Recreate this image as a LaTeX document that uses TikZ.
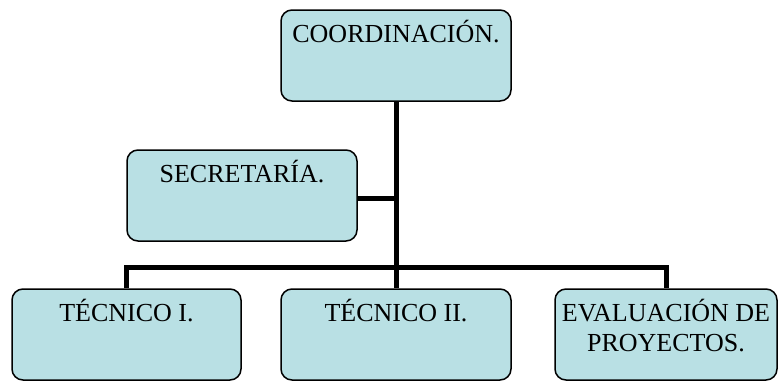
\documentclass[tikz,border=0pt]{standalone}
\usepackage{fontspec}
\setmainfont{Liberation Serif}
\definecolor{boxfill}{RGB}{185,224,228}
\newcommand{\boxtext}[2]{\parbox[c][91pt][t]{#1}{\centering\fontsize{26}{30}\selectfont\vspace*{10pt}\strut #2}}
\begin{document}
\begin{tikzpicture}[x=1pt,y=1pt,
  orgbox/.style={draw=black, line width=1.5pt, fill=boxfill, rounded corners=11pt, inner sep=0pt, minimum height=91pt},
  conn/.style={draw=black, line width=5pt}]
\useasboundingbox (0,0) rectangle (779,-381);
\node[orgbox] (coord) at (396,-55.5) {\boxtext{230pt}{COORDINACIÓN.}};
\node[orgbox] (sec) at (242,-195.5) {\boxtext{230pt}{SECRETARÍA.}};
\node[orgbox] (t1) at (126.5,-334.5) {\boxtext{229pt}{TÉCNICO I.}};
\node[orgbox] (t2) at (396,-334.5) {\boxtext{230pt}{TÉCNICO II.}};
\node[orgbox] (ev) at (666,-334.5) {\boxtext{222pt}{EVALUACIÓN DE\\ PROYECTOS.}};
\coordinate (bus) at (396,-267);
\draw[conn] (coord.south) -- (t2.north);
\draw[conn] ([yshift=-2.5pt]sec.east) -- ([yshift=-2.5pt]sec.east -| coord.south);
\draw[conn] (t1.north) |- (bus) -| (ev.north);
\end{tikzpicture}
\end{document}
